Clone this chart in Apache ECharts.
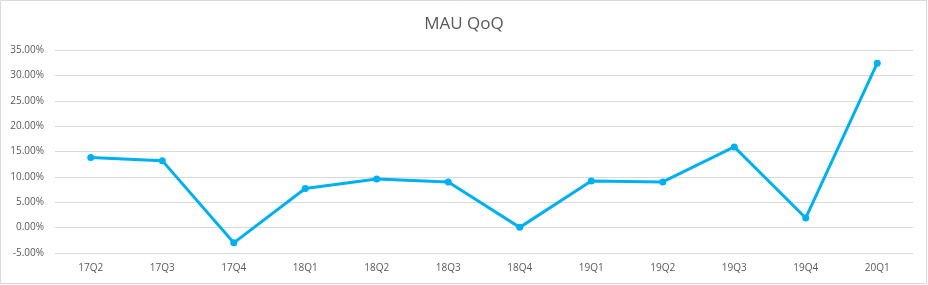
<!DOCTYPE html>
<html>
<head>
<meta charset="utf-8">
<script src="https://cdn.jsdelivr.net/npm/echarts@6/dist/echarts.min.js"></script>
<style>
html,body{margin:0;padding:0;background:#fff;}
#c{width:928px;height:285px;}
</style>
</head>
<body>
<div id="c"></div>
<script>
const categories = ['17Q2','17Q3','17Q4','18Q1','18Q2','18Q3','18Q4','19Q1','19Q2','19Q3','19Q4','20Q1'];
const mauQoQ = [13.8, 13.2, -3.0, 7.7, 9.6, 9.0, 0.05, 9.2, 9.0, 15.9, 1.9, 32.4];
const yMin = -5, yMax = 35, yStep = 5;

const chart = echarts.init(document.getElementById('c'));
chart.setOption({
  animation: false,
  backgroundColor: '#fff',
  title: {
    text: 'MAU QoQ',
    left: 'center',
    top: 11,
    textStyle: { fontFamily: 'Open Sans', fontSize: 17, fontWeight: 'normal', color: '#595959' }
  },
  graphic: [{
    type: 'rect',
    shape: { x: 0.5, y: 0.5, width: 926, height: 283 },
    style: { fill: 'none', stroke: '#d9d9d9', lineWidth: 1 },
    silent: true
  }],
  grid: { left: 55, right: 15, top: 50, bottom: 32, containLabel: false },
  xAxis: {
    type: 'category',
    data: categories,
    boundaryGap: true,
    axisLine: { show: false },
    axisTick: { show: false },
    axisLabel: { color: '#595959', fontFamily: 'Open Sans', fontSize: 10, margin: 10 }
  },
  yAxis: {
    type: 'value',
    min: yMin, max: yMax, interval: yStep,
    axisLine: { show: false },
    axisTick: { show: false },
    splitLine: { lineStyle: { color: '#d9d9d9', width: 1 } },
    axisLabel: {
      color: '#595959', fontFamily: 'Open Sans', fontSize: 10, margin: 11,
      formatter: v => v.toFixed(2) + '%'
    }
  },
  series: [{
    type: 'line',
    data: mauQoQ,
    symbol: 'circle',
    symbolSize: 7,
    lineStyle: { color: '#00B0F0', width: 3 },
    itemStyle: { color: '#00B0F0' }
  }]
});
</script>
</body>
</html>
